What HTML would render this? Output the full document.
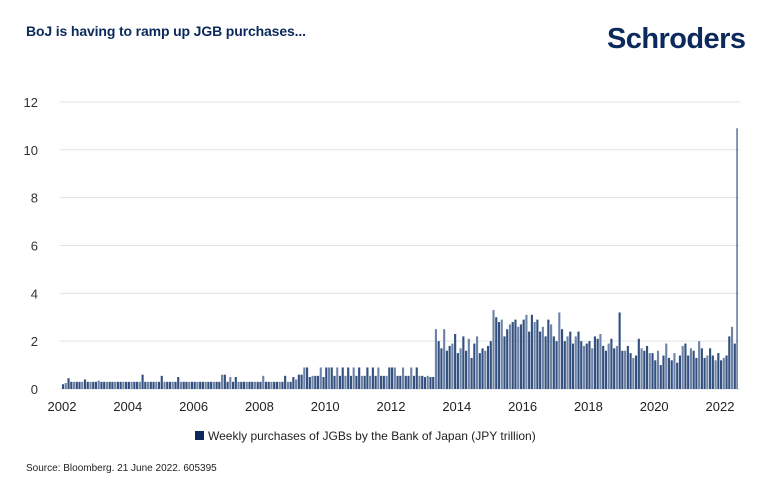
<!DOCTYPE html>
<html><head><meta charset="utf-8">
<style>
body{margin:0;background:#fff;width:771px;height:493px;overflow:hidden;font-family:"Liberation Sans",sans-serif}
</style></head>
<body>
<svg width="771" height="493" id="chart" xmlns="http://www.w3.org/2000/svg">
<text x="26" y="36" font-size="14" font-weight="bold" fill="#0b2a5b" textLength="280">BoJ is having to ramp up JGB purchases...</text>
<text x="607" y="48" font-size="29" font-weight="bold" fill="#0b2a5b" textLength="138" letter-spacing="-1">Schroders</text>
<g id="grid"></g>
<g id="bars"></g>
<g id="xlabels"></g>
<rect x="195" y="431" width="9" height="9" fill="#0b2a5b"/>
<text x="208" y="440" font-size="12" fill="#222">Weekly purchases of JGBs by the Bank of Japan (JPY trillion)</text>
<text x="26" y="471" font-size="10" fill="#222">Source: Bloomberg. 21 June 2022. 605395</text>
</svg>
<script>
const yTicks=[0,2,4,6,8,10,12];
const xTickLabels=["2002","2004","2006","2008","2010","2012","2014","2016","2018","2020","2022"];
const startYear=2002;
const monthlyValues=[
0.2,0.25,0.45,0.3,0.3,0.3,0.3,0.3,0.4,0.3,0.3,0.3,
0.3,0.35,0.3,0.3,0.3,0.3,0.3,0.3,0.3,0.3,0.3,0.3,
0.3,0.3,0.3,0.3,0.3,0.6,0.3,0.3,0.3,0.3,0.3,0.3,
0.55,0.3,0.3,0.3,0.3,0.3,0.5,0.3,0.3,0.3,0.3,0.3,
0.3,0.3,0.3,0.3,0.3,0.3,0.3,0.3,0.3,0.3,0.6,0.6,
0.3,0.5,0.3,0.5,0.3,0.3,0.3,0.3,0.3,0.3,0.3,0.3,
0.3,0.55,0.3,0.3,0.3,0.3,0.3,0.3,0.3,0.55,0.3,0.3,
0.5,0.4,0.6,0.6,0.9,0.9,0.5,0.55,0.55,0.55,0.9,0.5,
0.9,0.9,0.9,0.55,0.9,0.55,0.9,0.55,0.9,0.55,0.9,0.55,
0.9,0.55,0.55,0.9,0.55,0.9,0.55,0.9,0.55,0.55,0.55,0.9,
0.9,0.9,0.55,0.55,0.9,0.55,0.55,0.9,0.55,0.9,0.55,0.55,
0.5,0.55,0.5,0.5,2.5,2.0,1.7,2.5,1.6,1.8,1.9,2.3,
1.5,1.7,2.2,1.6,2.1,1.3,1.9,2.2,1.5,1.7,1.6,1.8,
2.0,3.3,3.0,2.8,2.9,2.2,2.5,2.7,2.8,2.9,2.6,2.7,
2.9,3.1,2.4,3.1,2.8,2.9,2.4,2.6,2.2,2.9,2.7,2.2,
2.0,3.2,2.5,2.0,2.2,2.4,1.9,2.2,2.4,2.0,1.8,1.9,
2.0,1.7,2.2,2.1,2.3,1.8,1.6,1.9,2.1,1.7,1.8,3.2,
1.6,1.6,1.8,1.5,1.3,1.4,2.1,1.7,1.6,1.8,1.5,1.5,
1.2,1.6,1.0,1.4,1.9,1.3,1.2,1.5,1.1,1.4,1.8,1.9,
1.4,1.7,1.6,1.3,2.0,1.7,1.3,1.4,1.7,1.4,1.2,1.5,
1.2,1.3,1.4,2.2,2.6,1.9,10.9
];
const NS="http://www.w3.org/2000/svg";
const x0=62,pxPerYear=32.9,y0=389,pxPerUnit=23.92;
function xScale(t){return x0+(t-startYear)*pxPerYear;}
function yScale(v){return y0-v*pxPerUnit;}
const grid=document.getElementById('grid');
yTicks.forEach(v=>{
  const l=document.createElementNS(NS,'line');
  l.setAttribute('x1',60);l.setAttribute('x2',740);
  l.setAttribute('y1',yScale(v));l.setAttribute('y2',yScale(v));
  l.setAttribute('stroke','#e3e3e3');l.setAttribute('stroke-width','1');
  
  
  grid.appendChild(l);
  const t=document.createElementNS(NS,'text');
  t.setAttribute('x',38);t.setAttribute('y',yScale(v)+5);
  t.setAttribute('text-anchor','end');t.setAttribute('font-size','13');t.setAttribute('fill','#333');
  t.textContent=v;
  
  
  grid.appendChild(t);
});
const bars=document.getElementById('bars');
const bw=pxPerYear/12;
monthlyValues.forEach((v,i)=>{
  const t=startYear+i/12;
  const r=document.createElementNS(NS,'rect');
  const h=v*pxPerUnit;
  r.setAttribute('x',xScale(t));
  r.setAttribute('y',yScale(v));
  r.setAttribute('width',i===monthlyValues.length-1?1.2:bw-0.6);
  r.setAttribute('height',h);
  r.setAttribute('fill',i%3===1?'#6d84a8':'#33507f');
  
  
  bars.appendChild(r);
});
const xl=document.getElementById('xlabels');
xTickLabels.forEach(s=>{
  const t=document.createElementNS(NS,'text');
  t.setAttribute('x',xScale(+s));t.setAttribute('y',411);
  t.setAttribute('text-anchor','middle');t.setAttribute('font-size','13');t.setAttribute('fill','#222');
  t.textContent=s;
  
  
  xl.appendChild(t);
});
</script>
</body></html>
